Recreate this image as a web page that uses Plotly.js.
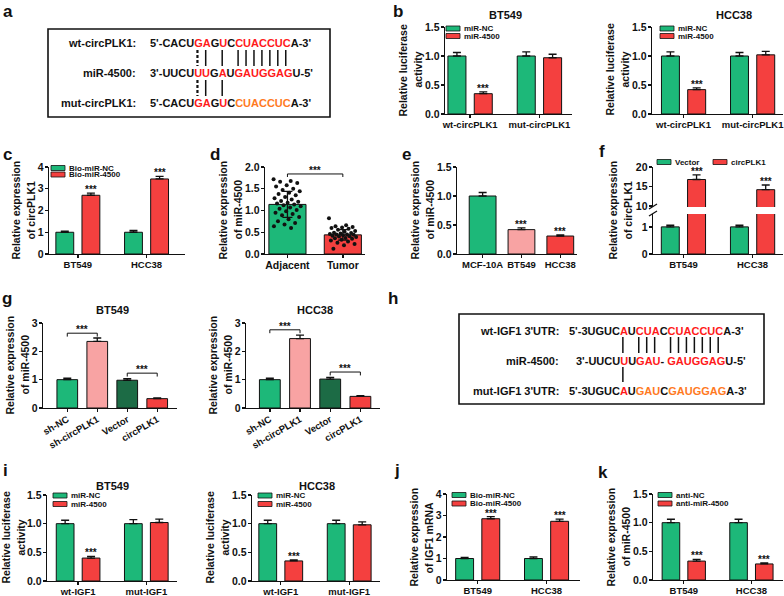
<!DOCTYPE html>
<html>
<head>
<meta charset="utf-8">
<script src="https://cdn.plot.ly/plotly-3.0.1.min.js"></script>
<style>body{margin:0;background:#fff}#fig{width:784px;height:596px}</style>
</head>
<body>
<div id="fig"></div>
<script>
// ---------- data ----------
var lucCats = ['wt-circPLK1', 'mut-circPLK1'];
var mirNames = ['miR-NC', 'miR-4500'];
var bBT549NC = [1.00, 1.00], bBT549NCErr = [0.06, 0.07];
var bBT549Mir = [0.35, 0.97], bBT549MirErr = [0.03, 0.06];
var bHCC38NC = [1.00, 1.00], bHCC38NCErr = [0.07, 0.06];
var bHCC38Mir = [0.42, 1.02], bHCC38MirErr = [0.03, 0.06];

var cellCats = ['BT549', 'HCC38'];
var bioNames = ['Bio-miR-NC', 'Bio-miR-4500'];
var cNC = [1.00, 1.00], cNCErr = [0.05, 0.08];
var cBio = [2.70, 3.45], cBioErr = [0.10, 0.12];

var dCats = ['Adjacent', 'Tumor'];
var dMean = [1.14, 0.44], dSD = [0.30, 0.12];
var dAdjacent = [1.72, 1.68, 1.66, 1.63, 1.58, 1.55, 1.50, 1.47, 1.44, 1.41, 1.38, 1.35, 1.31, 1.28, 1.25, 1.22, 1.20, 1.18,
                 1.16, 1.14, 1.12, 1.10, 1.07, 1.04, 1.01, 0.98, 0.95, 0.92, 0.89, 0.85, 0.80, 0.75, 0.71, 0.68, 0.64, 0.60];
var dTumor = [0.82, 0.66, 0.64, 0.62, 0.61, 0.60, 0.58, 0.56, 0.53, 0.51, 0.49, 0.48, 0.47, 0.46, 0.45, 0.45,
              0.44, 0.43, 0.42, 0.41, 0.40, 0.39, 0.37, 0.36, 0.35, 0.33, 0.31, 0.29, 0.26, 0.23, 0.20, 0.12];

var eCats = ['MCF-10A', 'BT549', 'HCC38'];
var eVals = [1.00, 0.42, 0.31], eErr = [0.06, 0.03, 0.02];

var fNames = ['Vector', 'circPLK1'];
var fVector = [1.00, 1.00], fVectorErr = [0.06, 0.06];
var fCirc = [16.8, 14.2], fCircErr = [1.2, 1.2];

var gCats = ['sh-NC', 'sh-circPLK1', 'Vector', 'circPLK1'];
var gBT549 = [1.00, 2.35, 0.98, 0.33], gBT549Err = [0.05, 0.12, 0.06, 0.03];
var gHCC38 = [1.00, 2.45, 1.02, 0.41], gHCC38Err = [0.05, 0.12, 0.06, 0.03];

var igfCats = ['wt-IGF1', 'mut-IGF1'];
var iBT549NC = [1.00, 1.00], iBT549NCErr = [0.06, 0.07];
var iBT549Mir = [0.40, 1.02], iBT549MirErr = [0.03, 0.06];
var iHCC38NC = [1.00, 1.00], iHCC38NCErr = [0.06, 0.06];
var iHCC38Mir = [0.35, 0.98], iHCC38MirErr = [0.02, 0.05];

var jNC = [1.00, 1.00], jNCErr = [0.05, 0.08];
var jBio = [2.85, 2.73], jBioErr = [0.10, 0.10];

var antiNames = ['anti-NC', 'anti-miR-4500'];
var kNC = [1.00, 1.00], kNCErr = [0.06, 0.06];
var kAnti = [0.33, 0.28], kAntiErr = [0.03, 0.02];

// sequences: [text, colour key]
var aLabels = ['wt-circPLK1:', 'miR-4500:', 'mut-circPLK1:'];
var aRows = [
  [["5'-CACU", 'k'], ['GA', 'r'], ['G', 'k'], ['U', 'r'], ['C', 'k'], ['CUACCUC', 'r'], ["A-3'", 'k']],
  [["3'-UUCU", 'k'], ['UU', 'r'], ['G', 'k'], ['A', 'r'], ['U', 'k'], ['GAUGGAG', 'r'], ["U-5'", 'k']],
  [["5'-CACU", 'k'], ['GA', 'r'], ['G', 'k'], ['U', 'r'], ['C', 'k'], ['CUACCUC', 'o'], ["A-3'", 'k']]
];
var aPairTop = [7, 8, 10, 12, 13, 14, 15, 16, 17, 18];
var aPairBottom = [7, 8, 10];
var aDotted = [7];

var hLabels = ["wt-IGF1 3'UTR:", 'miR-4500:', "mut-IGF1 3'UTR:"];
var hRows = [
  [["5'-3UGUC", 'k'], ['A', 'r'], ['U', 'k'], ['CUA', 'r'], ['C', 'k'], ['CUACCUC', 'r'], ["A-3'", 'k']],
  [["3'-UUCU", 'k'], ['U', 'r'], ['U', 'k'], ['GAU', 'r'], ['- ', 'k'], ['GAUGGAG', 'r'], ["U-5'", 'k']],
  [["5'-3UGUC", 'k'], ['A', 'r'], ['U', 'k'], ['GAU', 'o'], ['C', 'k'], ['GAUGGAG', 'o'], ["A-3'", 'k']]
];
var hPairTop = [8, 10, 11, 12, 14, 15, 16, 17, 18, 19, 20];
var hPairBottom = [8];

// ---------- styling / helpers ----------
var FONT = 'Arial, "Liberation Sans", Helvetica, sans-serif';
var INK = '#111111';
var GREEN = '#1db879', RED = '#f4403f', PINK = '#f8a3a3', DKGREEN = '#1c6b45';
var SEQCOL = {k: INK, r: '#ff1a1a', o: '#ff7a1f'};
var W = 784, H = 596;
var layout = {
  width: W, height: H, margin: {l: 0, r: 0, t: 0, b: 0},
  paper_bgcolor: '#ffffff', plot_bgcolor: 'rgba(0,0,0,0)', showlegend: false,
  font: {family: FONT, color: INK}, shapes: [], annotations: []
};
var traces = [];
var xn = 0, yn = 0;

function px(x) { return x / W; }
function py(y) { return 1 - y / H; }
function bold(size) { return {family: FONT, size: size, color: INK, weight: 'bold'}; }
function axKey(id) { return (id[0] === 'x' ? 'xaxis' : 'yaxis') + id.slice(1); }

function baseAxis() {
  return {showline: true, linecolor: INK, linewidth: 1.4, ticks: 'outside', ticklen: 3, tickwidth: 1.4,
          tickcolor: INK, showgrid: false, zeroline: false, fixedrange: true};
}
function newX(x0, x1, opts) {
  xn++;
  var id = xn === 1 ? 'x' : 'x' + xn;
  layout[axKey(id)] = Object.assign(baseAxis(), {domain: [px(x0), px(x1)], tickfont: bold(9.5),
                                                 ticklabelstandoff: -2}, opts);
  return id;
}
function newY(y0, y1, xid, opts) {
  yn++;
  var id = yn === 1 ? 'y' : 'y' + yn;
  layout[axKey(id)] = Object.assign(baseAxis(), {domain: [py(y1), py(y0)], anchor: xid, tickfont: bold(10.5),
                                                 ticklabelstandoff: -1}, opts);
  return id;
}
function panel(xr, yr, xrange, yrange, yticks, xopts, yopts) {
  var xid = newX(xr[0], xr[1], Object.assign({type: 'category', range: xrange}, xopts || {}));
  var yid = newY(yr[0], yr[1], xid, Object.assign({range: yrange, tickvals: yticks}, yopts || {}));
  layout[axKey(xid)].anchor = yid;
  return {x: xid, y: yid};
}

function barTrace(ax, cats, vals, errs, color, offset, width) {
  var t = {type: 'bar', x: cats, y: vals, xaxis: ax.x, yaxis: ax.y, offset: offset, width: width,
           marker: {color: color, line: {color: INK, width: 1}}, hoverinfo: 'skip'};
  if (errs) {
    t.error_y = {type: 'data', array: errs, arrayminus: errs.map(function () { return 0; }), symmetric: false,
                 color: INK, thickness: 1.3, width: 4};
  }
  traces.push(t);
}
function star(ax, x, y) {
  layout.annotations.push({xref: ax.x, yref: ax.y, x: x, y: y, text: '***', showarrow: false, borderpad: 0,
                           yanchor: 'bottom', yshift: -3, font: bold(10)});
}
function pairedBars(ax, cats, a, aErr, b, bErr, colors, stars) {
  var w = 0.26, s = 0.38;
  barTrace(ax, cats, a, aErr, colors[0], -s / 2 - w / 2, w);
  barTrace(ax, cats, b, bErr, colors[1], s / 2 - w / 2, w);
  stars.forEach(function (i) { star(ax, i + s / 2, b[i] + bErr[i]); });
}
function bracket(ax, x0, x1, y, drop) {
  [[x0, y - drop, x0, y], [x0, y, x1, y], [x1, y, x1, y - drop]].forEach(function (p) {
    layout.shapes.push({type: 'line', xref: ax.x, yref: ax.y, x0: p[0], y0: p[1], x1: p[2], y1: p[3],
                        line: {color: INK, width: 1}});
  });
  star(ax, (x0 + x1) / 2, y);
}
function legendBox(names, colors, x, y, dx, dy) {
  names.forEach(function (nm, i) {
    var lx = x + i * dx, ly = y + i * dy;
    layout.shapes.push({type: 'rect', xref: 'paper', yref: 'paper', x0: px(lx), x1: px(lx + 14),
                        y0: py(ly + 2.5), y1: py(ly - 2.5), fillcolor: colors[i], line: {color: INK, width: 0.8}});
    layout.annotations.push({xref: 'paper', yref: 'paper', x: px(lx + 17), y: py(ly), text: nm, showarrow: false,
                             xanchor: 'left', yanchor: 'middle', font: bold(8), borderpad: 0});
  });
}
function text(t, x, y, size, opts) {
  layout.annotations.push(Object.assign({xref: 'paper', yref: 'paper', x: px(x), y: py(y), text: t, showarrow: false,
                                         xanchor: 'center', yanchor: 'middle', font: bold(size)}, opts || {}));
}
// two-line rotated axis title, lines 15 px apart
function yTitle(lines, x, y) {
  text(lines[0], x - 7.5, y, 10.5, {textangle: -90});
  text(lines[1], x + 7.5, y, 10.5, {textangle: -90});
}

// ---------- a : circPLK1 / miR-4500 pairing ----------
var ctx = document.createElement('canvas').getContext('2d');
ctx.font = 'bold 11px ' + FONT;
function tw(s) { return ctx.measureText(s).width; }
function plain(row) { return row.map(function (s) { return s[0]; }).join(''); }
function charCenter(row, i) { var s = plain(row); return tw(s.slice(0, i)) + tw(s[i]) / 2; }
function seqHtml(row) {
  return row.map(function (s) { return '<span style="color:' + SEQCOL[s[1]] + '">' + s[0] + '</span>'; }).join('');
}
function seqPanel(labels, rows, box, labelX, seqX, rowY, align, topPairs, botPairs, dotted, topY, botY) {
  layout.shapes.push({type: 'rect', xref: 'paper', yref: 'paper', x0: px(box[0]), x1: px(box[2]),
                      y0: py(box[3]), y1: py(box[1]), line: {color: INK, width: 1.6}});
  var starts = [seqX, seqX, seqX];
  if (align) starts[1] = seqX + charCenter(rows[0], align[0]) - charCenter(rows[1], align[1]);
  rows.forEach(function (row, r) {
    text(labels[r], labelX, rowY[r], 11, {xanchor: 'right', borderpad: 0});
    text(seqHtml(row), starts[r], rowY[r], 11, {xanchor: 'left', borderpad: 0});
  });
  function pairLines(idx, yy) {
    idx.forEach(function (i) {
      var cx = seqX + charCenter(rows[0], i);
      layout.shapes.push({type: 'line', xref: 'paper', yref: 'paper', x0: px(cx), x1: px(cx), y0: py(yy[0]), y1: py(yy[1]),
                          line: {color: INK, width: dotted.indexOf(i) >= 0 ? 2.2 : 1.5,
                                 dash: dotted.indexOf(i) >= 0 ? '3px,2px' : 'solid'}});
    });
  }
  pairLines(topPairs, topY);
  pairLines(botPairs, botY);
}
seqPanel(aLabels, aRows, [48, 29, 330, 117], 137, 149, [43, 73, 103], null,
         aPairTop, aPairBottom, aDotted, [50, 66], [80, 96]);

var LUC = ['Relative luciferase', 'activity'];
var EXP_MIR = ['Relative expression', 'of miR-4500'];
var EXP_CIRC = ['Relative expression', 'of circPLK1'];

// ---------- b : luciferase, circPLK1 ----------
var b1 = panel([445, 572], [27, 114], [-0.362, 1.47], [0, 1.5], [0, 0.5, 1, 1.5], null, {tickformat: '.1f'});
pairedBars(b1, lucCats, bBT549NC, bBT549NCErr, bBT549Mir, bBT549MirErr, [GREEN, RED], [0]);
legendBox(mirNames, [GREEN, RED], 446, 28.5, 0, 7.5);
text('BT549', 505, 15, 11);
yTitle(LUC, 410, 70);

var b2 = panel([652, 783], [27, 114], [-0.457, 1.44], [0, 1.5], [0, 0.5, 1, 1.5], null, {tickformat: '.1f'});
pairedBars(b2, lucCats, bHCC38NC, bHCC38NCErr, bHCC38Mir, bHCC38MirErr, [GREEN, RED], [0]);
legendBox(mirNames, [GREEN, RED], 660, 28.5, 0, 7.5);
text('HCC38', 734, 15, 11);
yTitle(LUC, 617, 70);

// ---------- c : pull-down ----------
var c = panel([49, 185], [167, 254], [-0.42, 1.56], [0, 4], [0, 1, 2, 3, 4]);
pairedBars(c, cellCats, cNC, cNCErr, cBio, cBioErr, [GREEN, RED], [0, 1]);
legendBox(bioNames, [GREEN, RED], 51, 168, 0, 6.5);
yTitle(EXP_CIRC, 23, 210);

// ---------- d : tissues ----------
var dIdx = dCats.map(function (cat, i) { return i; });
var d = panel([265, 365], [167, 254], [-0.405, 1.4], [0, 2], [0, 0.5, 1, 1.5, 2],
              {type: 'linear', tickvals: dIdx, ticktext: dCats, tickfont: bold(10.5)}, {tickformat: '.1f'});
traces.push({type: 'bar', x: dIdx, y: dMean, xaxis: d.x, yaxis: d.y, width: 0.67,
             marker: {color: [GREEN, RED], line: {color: INK, width: 1}}, hoverinfo: 'skip'});
[dAdjacent, dTumor].forEach(function (vals, g) {
  traces.push({type: 'scatter', mode: 'markers', xaxis: d.x, yaxis: d.y, hoverinfo: 'skip',
               x: vals.map(function (v, k) { return g + (((k * 0.618034) % 1) - 0.5) * 0.5; }), y: vals,
               marker: {color: INK, size: 4}});
});
traces.push({type: 'scatter', mode: 'markers', xaxis: d.x, yaxis: d.y, x: dIdx, y: dMean, hoverinfo: 'skip',
             marker: {size: 1, color: 'rgba(0,0,0,0)'},
             error_y: {type: 'data', array: dSD, color: INK, thickness: 1.3, width: 5}});
bracket(d, 0, 1, 1.84, 0.07);
yTitle(EXP_MIR, 230, 210);

// ---------- e : cell lines ----------
var e = panel([457, 577], [167, 254], [-0.66, 2.43], [0, 1.5], [0, 0.5, 1, 1.5], null, {tickformat: '.1f'});
barTrace(e, eCats, eVals, eErr, [GREEN, PINK, RED], -0.345, 0.69);
[1, 2].forEach(function (i) { star(e, i, eVals[i] + eErr[i]); });
yTitle(EXP_MIR, 422, 210);

// ---------- f : overexpression, broken axis ----------
var fx = newX(653, 783, {type: 'category', range: [-0.44, 1.44]});
var fyLo = newY(214, 254, fx, {range: [0, 1.475], tickvals: [0, 1]});
var fyHi = newY(167, 207, fx, {range: [9.77, 20], tickvals: [10, 15, 20]});
layout[axKey(fx)].anchor = fyLo;
var fLo = {x: fx, y: fyLo}, fHi = {x: fx, y: fyHi};
barTrace(fLo, cellCats, fVector, fVectorErr, GREEN, -0.19 - 0.13, 0.26);
barTrace(fLo, cellCats, fCirc, null, RED, 0.19 - 0.13, 0.26);
barTrace(fHi, cellCats, fCirc, fCircErr, RED, 0.19 - 0.13, 0.26);
[0, 1].forEach(function (i) { star(fHi, i + 0.19, fCirc[i] + fCircErr[i]); });
[[209, 204], [216, 211]].forEach(function (p) {
  layout.shapes.push({type: 'line', xref: 'paper', yref: 'paper', x0: px(649), x1: px(657), y0: py(p[0]), y1: py(p[1]),
                      line: {color: INK, width: 1.3}});
});
legendBox(fNames, [GREEN, RED], 657, 162, 56, 0);
yTitle(EXP_CIRC, 620, 210);

// ---------- g : knockdown / overexpression ----------
var gColors = [GREEN, PINK, DKGREEN, RED];
var g1 = panel([43, 177], [323, 408], [-0.81, 3.66], [0, 3], [0, 1, 2, 3], {tickangle: -30});
barTrace(g1, gCats, gBT549, gBT549Err, gColors, -0.345, 0.69);
bracket(g1, 0, 1, 2.64, 0.12);
bracket(g1, 2, 3, 1.23, 0.12);
text('BT549', 112, 310, 11);
yTitle(EXP_MIR, 17, 365);

var g2 = panel([246, 380], [323, 408], [-0.79, 3.65], [0, 3], [0, 1, 2, 3], {tickangle: -30});
barTrace(g2, gCats, gHCC38, gHCC38Err, gColors, -0.345, 0.69);
bracket(g2, 0, 1, 2.76, 0.12);
bracket(g2, 2, 3, 1.27, 0.12);
text('HCC38', 315, 310, 11);
yTitle(EXP_MIR, 220, 365);

// ---------- h : IGF1 pairing ----------
seqPanel(hLabels, hRows, [459, 314, 764, 404], 560, 568, [331, 361, 391], [8, 7],
         hPairTop, hPairBottom, [], [337, 353], [367, 382]);

// ---------- i : luciferase, IGF1 ----------
var i1 = panel([47, 177], [495, 581], [-0.456, 1.45], [0, 1.5], [0, 0.5, 1, 1.5], null, {tickformat: '.1f'});
pairedBars(i1, igfCats, iBT549NC, iBT549NCErr, iBT549Mir, iBT549MirErr, [GREEN, RED], [0]);
legendBox(mirNames, [GREEN, RED], 53, 495.5, 0, 8.5);
text('BT549', 112, 486, 11);
yTitle(LUC, 13, 538);

var i2 = panel([252, 380], [495, 581], [-0.42, 1.45], [0, 1.5], [0, 0.5, 1, 1.5], null, {tickformat: '.1f'});
pairedBars(i2, igfCats, iHCC38NC, iHCC38NCErr, iHCC38Mir, iHCC38MirErr, [GREEN, RED], [0]);
legendBox(mirNames, [GREEN, RED], 258, 495.5, 0, 8.5);
text('HCC38', 317, 486, 11);
yTitle(LUC, 217, 538);

// ---------- j : IGF1 pull-down ----------
var j = panel([447, 580], [494, 580], [-0.446, 1.486], [0, 4], [0, 1, 2, 3, 4]);
pairedBars(j, cellCats, jNC, jNCErr, jBio, jBioErr, [GREEN, RED], [0, 1]);
legendBox(bioNames, [GREEN, RED], 452, 495, 0, 8.5);
yTitle(['Relative expression', 'of IGF1 mRNA'], 421, 537);

// ---------- k : anti-miR ----------
var k = panel([653, 783], [494, 580], [-0.455, 1.467], [0, 1.5], [0, 0.5, 1, 1.5], null, {tickformat: '.1f'});
pairedBars(k, cellCats, kNC, kNCErr, kAnti, kAntiErr, [GREEN, RED], [0, 1]);
legendBox(antiNames, [GREEN, RED], 658, 495, 0, 8.5);
yTitle(EXP_MIR, 618, 537);

// ---------- panel letters ----------
[['a', 8, 11], ['b', 398, 11], ['c', 8, 154], ['d', 215, 154], ['e', 406, 154], ['f', 602, 151],
 ['g', 7, 298], ['h', 393, 298], ['i', 5, 470], ['j', 397, 470], ['k', 603, 472]].forEach(function (l) {
  text(l[0], l[1], l[2], 17);
});

Plotly.newPlot('fig', traces, layout, {staticPlot: true, displayModeBar: false});
</script>
</body>
</html>
